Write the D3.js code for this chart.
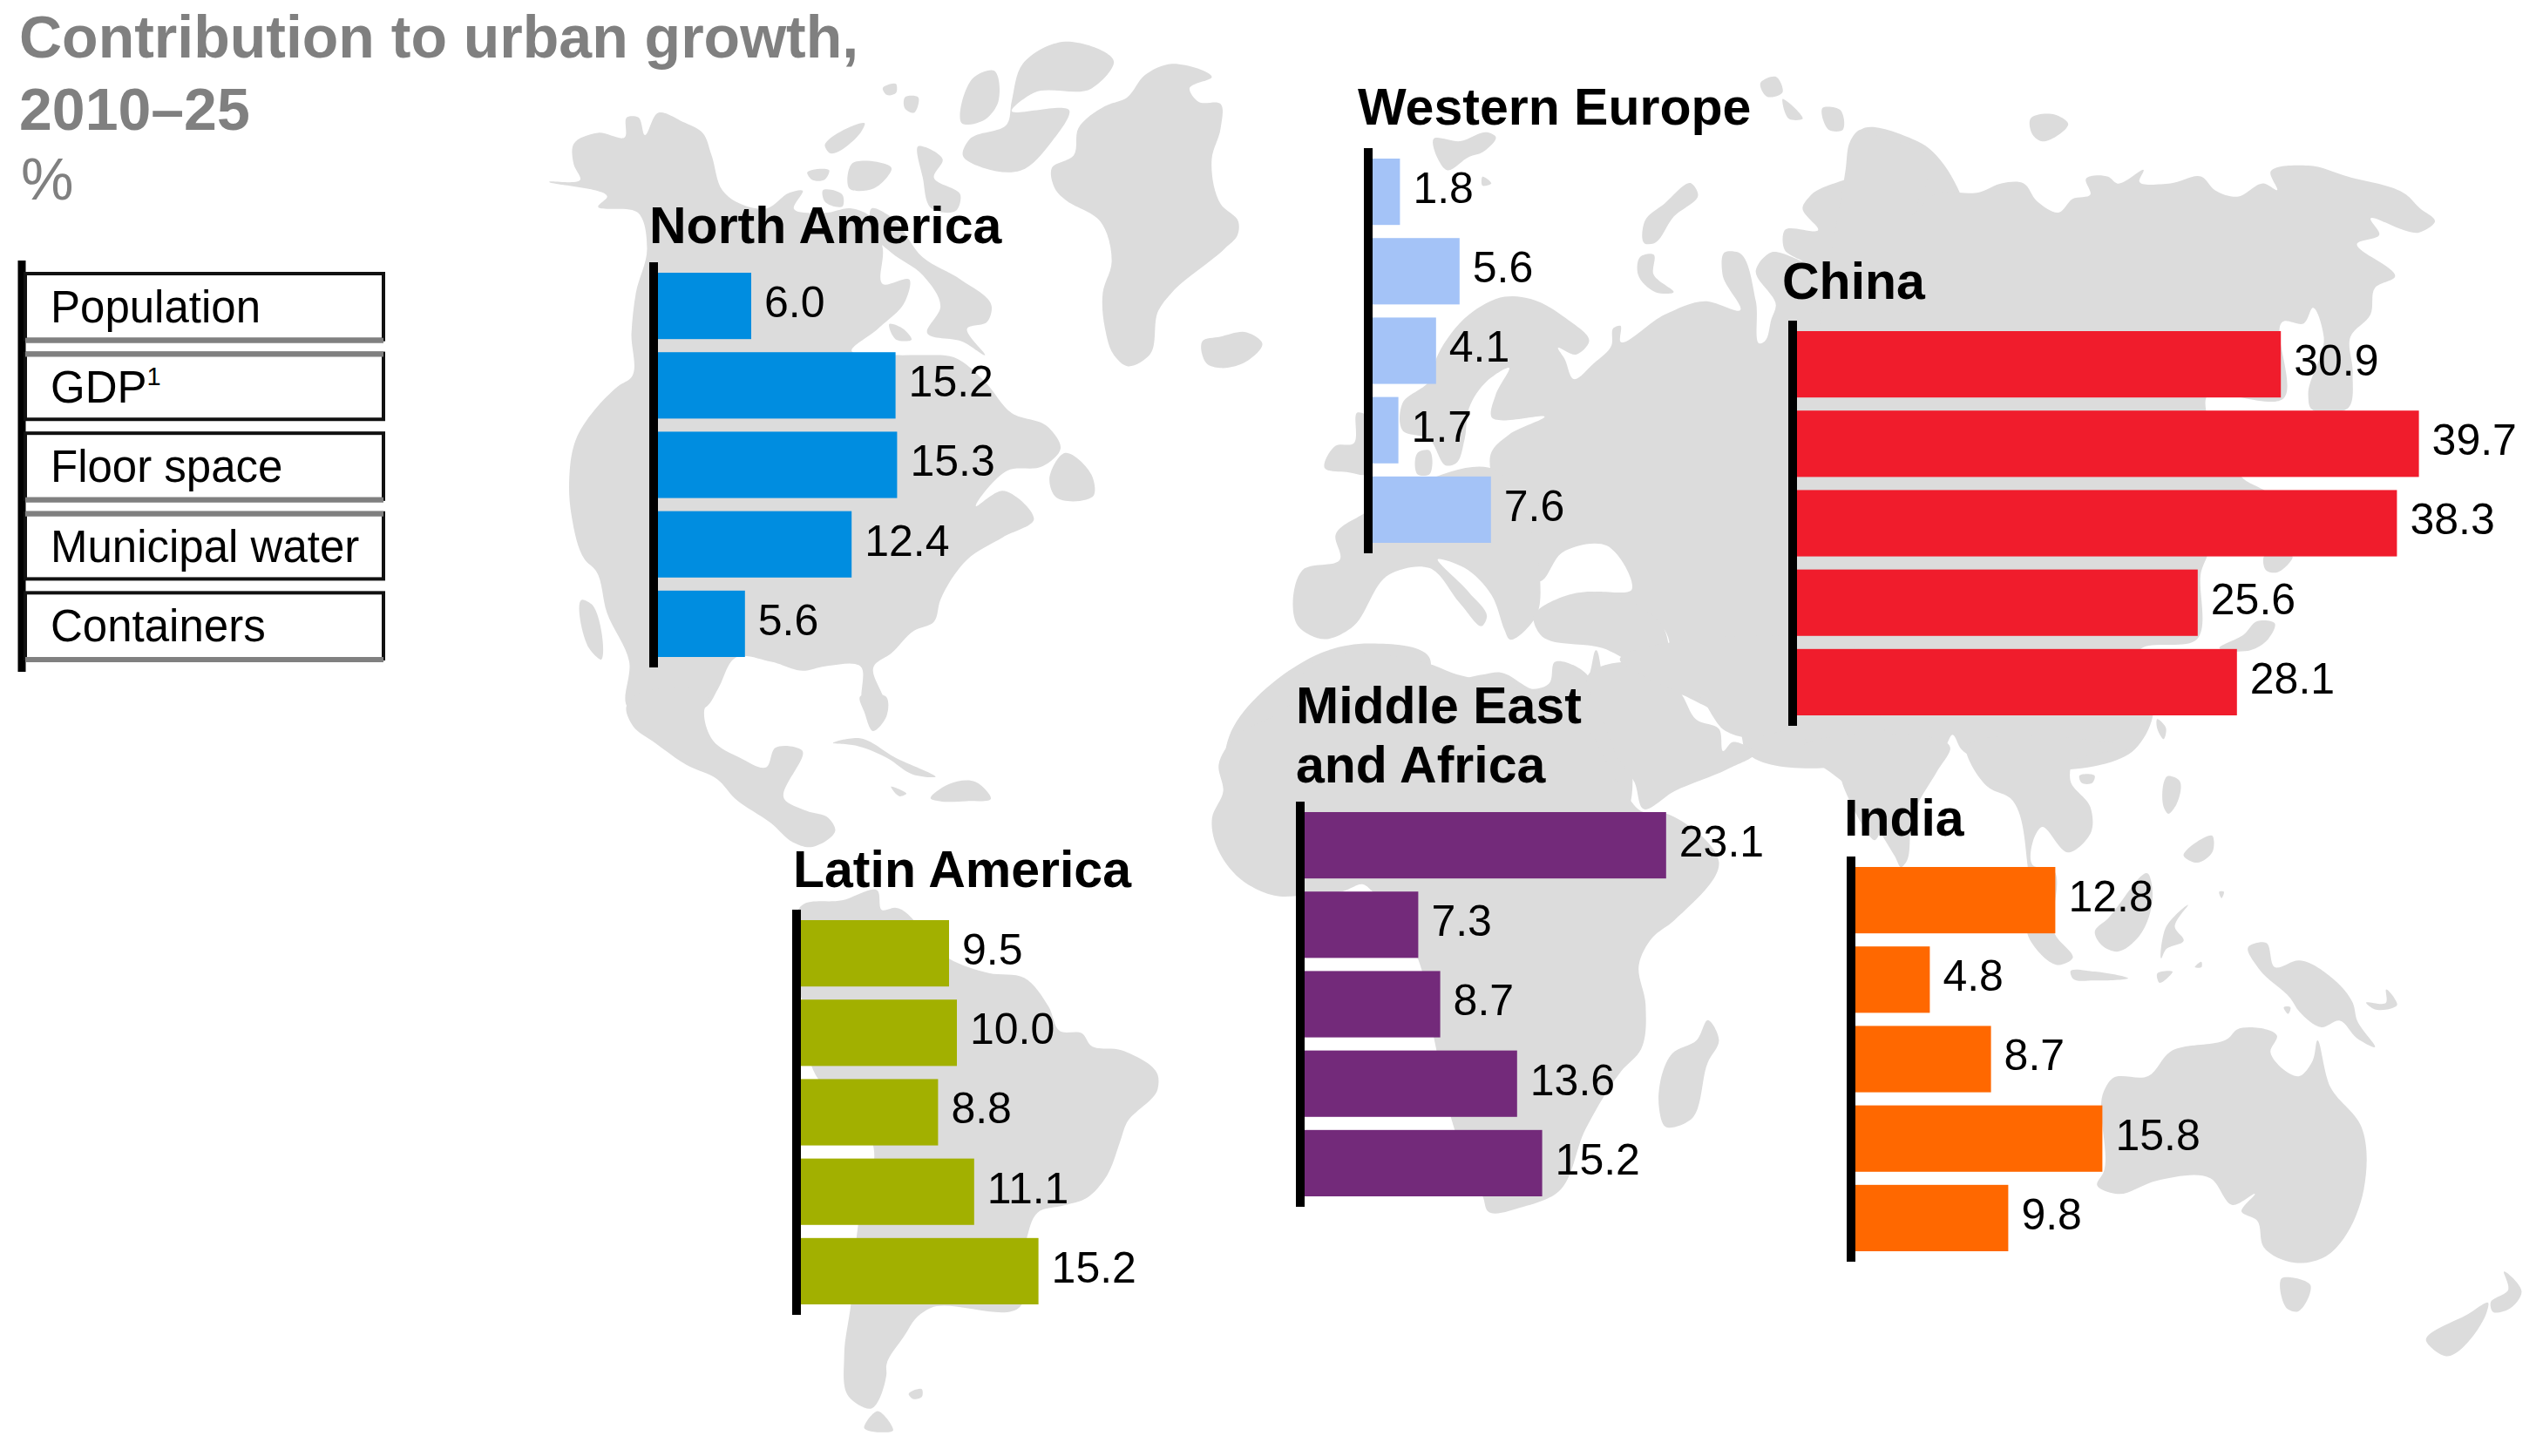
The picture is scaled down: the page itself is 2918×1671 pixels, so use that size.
<!DOCTYPE html>
<html>
<head>
<meta charset="utf-8">
<title>Contribution to urban growth</title>
<script src="https://cdnjs.cloudflare.com/ajax/libs/d3/7.8.5/d3.min.js"></script>
<style>
  html, body { margin: 0; padding: 0; background: #fff; }
  svg { display: block; }
  text { font-family: "Liberation Sans", Arial, sans-serif; }
</style>
</head>
<body>
<svg id="chart"></svg>
<script>
// chart values
var measures = ['Population', 'GDP', 'Floor space', 'Municipal water', 'Containers'];
var northAmerica = [6.0, 15.2, 15.3, 12.4, 5.6];
var westernEurope = [1.8, 5.6, 4.1, 1.7, 7.6];
var china = [30.9, 39.7, 38.3, 25.6, 28.1];
var latinAmerica = [9.5, 10.0, 8.8, 11.1, 15.2];
var middleEastAfrica = [23.1, 7.3, 8.7, 13.6, 15.2];
var india = [12.8, 4.8, 8.7, 15.8, 9.8];

var titleLines = ['Contribution to urban growth,', '2010\u201325'];

// panel placement
var panels = [
    { name: ['North America'], values: northAmerica, color: '#008de0', axisX: 750, top: 313, titleX: 745, titleY: [279] },
    { name: ['Western Europe'], values: westernEurope, color: '#a4c3f7', axisX: 1570, top: 182, titleX: 1558, titleY: [143] },
    { name: ['China'], values: china, color: '#f01c2c', axisX: 2057, top: 380, titleX: 2045, titleY: [343] },
    { name: ['Latin America'], values: latinAmerica, color: '#a2b000', axisX: 914, top: 1056, titleX: 910, titleY: [1018] },
    { name: ['Middle East', 'and Africa'], values: middleEastAfrica, color: '#732a7a', axisX: 1492, top: 932, titleX: 1487, titleY: [830, 898] },
    { name: ['India'], values: india, color: '#ff6800', axisX: 2124, top: 995, titleX: 2116, titleY: [959] }
];

// background map. each crop has its own offset and zoom
var crops = {
    a: [620, 30, 1.96, 1.96],
    b: [1400, 60, 1.96, 1.96],
    c: [2118, 60, 1.96, 1.96],
    d: [1350, 760, 1.96, 1.96],
    e: [2118, 860, 1.96, 1.96],
    f: [660, 800, 1.96, 1.8]
};
var land = [
    // north america
    ['a', '20,350 90,345 75,310 75,265 130,240 190,250 195,205 220,205 235,245 265,195 320,215 365,240 385,290 410,370 440,395 510,410 560,375 590,370 570,410 640,420 700,410 745,430 770,500 770,580 830,570 820,620 760,680 700,730 800,740 860,740 930,745 1000,800 1060,870 1140,900 1170,950 1130,990 1050,1000 980,1080 1040,1045 1110,1110 1040,1150 960,1200 900,1290 885,1340 840,1360 790,1410 750,1440 775,1530 760,1570 725,1530 720,1440 640,1440 590,1450 520,1430 440,1420 400,1490 375,1530 195,1530 200,1430 150,1320 125,1225 100,1200 70,1100 65,1020 80,930 175,810 205,790 205,690 215,600 240,500 220,420 130,405 150,385'],
    ['a', '745,410 790,430 860,520 945,570 1015,630 1005,665 960,680 1000,740 950,710 870,690 900,630 860,560 790,510 750,470'],
    ['a', '850,270 905,300 885,340 945,380 935,415 880,410 860,340'],
    ['a', '700,310 790,320 750,365 695,365'],
    ['a', '640,270 730,220 720,240 650,285'],
    ['a', '600,330 650,325 640,345 610,345'],
    ['a', '635,370 680,380 680,405 640,395'],
    ['a', '785,670 815,680 835,705 800,705'],
    ['a', '1085,85 1180,35 1290,80 1240,140 1110,150 1060,190 1190,190 1150,260 1080,325 1000,320 950,290 965,255 1050,220 1060,170'],
    ['a', '950,220 975,115 1020,100 1030,170 1000,210'],
    ['a', '770,140 800,130 800,150 780,155'],
    ['a', '820,160 850,160 840,195 820,185'],
    ['a', '1150,320 1200,290 1210,230 1270,180 1320,160 1360,110 1420,85 1510,115 1460,140 1480,170 1530,175 1530,230 1510,300 1530,400 1570,440 1568,470 1540,500 1420,600 1390,640 1370,740 1320,765 1290,740 1270,680 1265,600 1285,530 1260,440 1180,390 1160,370'],
    ['a', '1180,960 1240,1010 1245,1055 1160,1060 1145,1020'],
    ['a', '95,1290 115,1300 135,1425 110,1400'],
    // central and south america
    ['f', '115,20 130,0 300,0 290,30 310,90 370,125 430,145 450,105 510,110 470,210 520,235 570,250 585,275 530,310 490,300 440,260 360,210 320,170 250,140 180,95 130,60'],
    ['f', '500,600 510,430 600,420 680,400 690,440 720,435 840,540 930,570 1010,580 1065,640 1090,690 1140,695 1160,720 1230,730 1310,780 1310,810 1240,880 1225,920 1195,990 1150,1035 1100,1050 1040,1065 1015,1120 1000,1260 800,1262 770,1280 740,1320 700,1380 700,1400 665,1470 615,1445 605,1360 620,1255 635,1100 670,925 535,770 510,625'],
    ['f', '650,1510 680,1475 715,1515'],
    ['f', '750,1440 780,1430 780,1445 760,1450'],
    ['f', '580,95 640,85 720,125 810,165 760,160 700,125 630,100'],
    ['f', '800,210 840,180 900,175 935,210 880,215 820,215'],
    ['f', '710,185 745,200 730,205'],
    ['f', '640,0 700,0 700,40 670,70 650,30'],
    // europe and russia
    ['b', '-40,650 0,640 60,630 95,655 60,695 0,710 -30,700'],
    ['b', '1440,175 1420,225 1440,260 1330,320 1310,350 1345,400 1270,400 1270,445 1310,470 1240,450 1205,490 1250,570 1240,600 1225,650 1215,655 1205,560 1165,450 1135,450 1130,500 1170,580 1090,560 1000,590 900,650 900,615 885,620 880,660 840,700 795,735 775,690 760,665 800,680 830,650 780,600 700,555 640,550 560,590 490,680 470,740 410,790 410,850 470,870 510,930 530,925 550,870 560,800 600,740 650,710 620,770 610,820 730,820 650,860 610,900 610,960 640,1100 720,1190 770,1125 870,1110 925,1210 840,1215 1000,1300 1030,1440 1050,1450 1170,1530 1180,1568 1568,1568 1568,200'],
    ['b', '320,1040 620,940 720,1190 710,1270 650,1320 640,1300 610,1220 550,1160 490,1140 560,1215 600,1270 590,1290 540,1240 470,1160 380,1175 295,1295 235,1320 175,1290 185,1165 270,1140 260,1085'],
    ['b', '705,1270 770,1225 860,1215 1000,1300 1000,1400 860,1340 720,1310'],
    ['b', '445,900 470,895 470,950 445,950'],
    ['b', '235,935 260,885 300,880 310,810 328,815 328,950 290,945'],
    ['b', '480,195 540,200 600,180 620,190 590,225 560,235 510,265 490,240'],
    ['b', '590,280 610,295 590,300'],
    ['b', '1215,70 1250,55 1265,90 1230,100'],
    ['b', '1265,105 1310,150 1280,150'],
    ['b', '1355,125 1395,130 1400,175 1370,175'],
    ['b', '955,380 1000,340 1060,295 1075,320 1020,370 975,430 955,430'],
    ['b', '945,460 975,455 975,500 1020,540 980,540 940,500'],
    ['c', '415,150 470,140 500,160 440,200 420,185'],
    // east asia
    ['c', '0,260 10,200 30,175 100,200 170,215 185,280 150,365 200,320 300,315 350,295 400,295 430,335 480,360 510,330 550,320 540,285 590,280 610,295 670,265 660,290 730,295 800,280 830,310 880,325 940,295 970,310 955,270 1040,255 1130,280 1260,320 1290,350 1325,380 1290,405 1180,375 1200,410 1150,430 1235,505 1190,530 1180,590 1135,640 1140,720 1130,800 1045,800 1040,770 1075,640 1050,575 1030,610 985,605 985,778 810,778 810,806 895,960 945,990 900,995 810,1140 800,1165 790,1320 660,1345 690,1495 650,1568 260,1568 240,1535 220,1568 0,1568'],
    ['c', '940,1135 1005,1135 970,1170 945,1165'],
    ['c', '965,1285 950,1320 910,1345 840,1340 895,1310 925,1280'],
    ['c', '700,1500 720,1520 715,1545 700,1520'],
    // africa and the middle east
    ['b', '20,1540 230,1350 340,1330 470,1360 480,1410 590,1400 630,1395 710,1435 820,1420 845,1345 870,1460 920,1568 920,1700 20,1700'],
    ['d', '95,230 130,170 250,100 305,0 555,0 640,30 840,45 850,0 925,30 920,130 950,190 985,260 1020,310 1045,335 1100,340 1220,450 1120,580 1070,620 1040,680 1055,770 1045,870 1000,920 920,1050 860,1190 780,1225 700,1235 690,1205 625,1050 580,850 540,660 440,515 420,500 375,515 285,525 220,525 135,480 85,400 80,350 105,290'],
    ['d', '1195,805 1220,850 1195,900 1155,1030 1100,1045 1085,1000 1115,880 1170,850'],
    ['d', '960,130 925,30 1000,0 1130,65 1170,130 1220,150 1230,200 1250,180 1300,205 1240,240 1120,290 1050,330 1030,270 990,210'],
    ['d', '1000,0 1568,0 1568,100 1390,145 1285,170 1235,155 1165,70 1130,65'],
    ['d', '1390,100 1420,180 1480,210 1500,280 1568,400 1568,100'],
    // south east asia and oceania
    ['e', '0,80 110,240 125,265 135,255 150,150 205,50 235,0 -100,0'],
    ['e', '270,0 640,0 510,30 505,70 550,130 552,185 500,232 440,175 420,210 420,260 465,270 470,415 510,470 480,485 415,430 410,270 370,110 320,85'],
    ['e', '525,60 560,60 555,75 530,75'],
    ['e', '560,410 590,380 680,280 690,330 660,420 610,455 575,440'],
    ['e', '505,500 560,500 635,515 560,520 510,515'],
    ['e', '710,470 720,400 770,350 740,400 760,430 720,450'],
    ['e', '715,130 725,60 750,70 740,130 725,145'],
    ['e', '760,240 825,195 825,230 790,255'],
    ['e', '700,505 735,500 705,525'],
    ['e', '785,490 800,478 800,490'],
    ['e', '840,320 850,320 845,335'],
    ['e', '905,445 945,435 965,490 1020,475 1100,520 1140,570 1150,610 1190,670 1150,650 1110,610 1070,625 1020,590 1000,560 930,495'],
    ['e', '985,580 1000,580 995,595'],
    ['e', '1170,570 1215,570 1215,540 1240,575 1190,585'],
    ['e', '580,770 600,740 680,735 730,680 860,650 880,630 970,645 955,680 1020,735 1050,700 1060,655 1090,760 1160,850 1165,990 1120,1100 1080,1140 1010,1155 940,1120 925,1060 890,1040 920,1000 870,1025 820,965 700,970 610,1000 565,980 580,950'],
    ['e', '980,1190 1045,1205 1015,1265 995,1260'],
    ['e', '1480,1175 1520,1220 1490,1260 1455,1265 1450,1245 1490,1215'],
    ['e', '1305,1330 1400,1270 1445,1245 1440,1270 1350,1365']
];

var width = 2918, height = 1671;
var svg = d3.select('#chart').attr('width', width).attr('height', height);

// map first so everything else sits on top
var outline = d3.line().curve(d3.curveCatmullRomClosed.alpha(0.8));
svg.append('g')
    .selectAll('path')
    .data(land)
    .join('path')
    .attr('fill', '#dcdcdc')
    .attr('d', function (d) {
        var c = crops[d[0]];
        var pts = d[1].split(' ').map(function (p) {
            var xy = p.split(',');
            return [c[0] + xy[0] / c[2], c[1] + xy[1] / c[3]];
        });
        return outline(pts);
    });

// title
var title = svg.append('g').attr('fill', '#808080').attr('font-size', 68);
title.selectAll('text')
    .data(titleLines)
    .join('text')
    .attr('x', 22)
    .attr('y', function (d, i) { return 66 + i * 83; })
    .attr('font-weight', 'bold')
    .text(function (d) { return d; });
title.append('text').attr('x', 24).attr('y', 229).text('%');

// legend
var legendY = d3.scaleBand().domain(measures).range([314, 756]).paddingInner(16 / 92);
var legend = svg.append('g');
legend.append('line')
    .attr('x1', 25).attr('x2', 25)
    .attr('y1', 299).attr('y2', 771)
    .attr('stroke', '#000').attr('stroke-width', 9);
var rows = legend.selectAll('g').data(measures).join('g');
rows.append('rect')
    .attr('x', 29).attr('width', 411)
    .attr('y', function (d) { return legendY(d); })
    .attr('height', legendY.bandwidth())
    .attr('fill', '#fff')
    .attr('stroke', '#111')
    .attr('stroke-width', 4);
// the rows have one soft grey edge each, bottom and top in turn
rows.append('line')
    .attr('x1', 29).attr('x2', 440)
    .attr('y1', function (d, i) { return legendY(d) + (i % 2 ? 0 : legendY.bandwidth()) + 1; })
    .attr('y2', function (d, i) { return legendY(d) + (i % 2 ? 0 : legendY.bandwidth()) + 1; })
    .attr('stroke', '#808080')
    .attr('stroke-width', 6);
var rowText = rows.append('text')
    .attr('x', 58)
    .attr('y', function (d) { return legendY(d) + 56; })
    .attr('font-size', 51)
    .attr('fill', '#000')
    .text(function (d) { return d; });
rowText.filter(function (d) { return d === 'GDP'; })
    .append('tspan')
    .attr('dy', -20)
    .attr('font-size', 29)
    .text('1');

// bars, 18px per percentage point
var x = d3.scaleLinear().domain([0, 40]).range([0, 720]);
var fmt = d3.format('.1f');

panels.forEach(function (p) {
    var y = d3.scaleBand()
        .domain(measures)
        .range([p.top, p.top + 441])
        .paddingInner(15 / 91);
    var g = svg.append('g').attr('transform', 'translate(' + (p.axisX + 4) + ',0)');

    g.selectAll('rect')
        .data(p.values)
        .join('rect')
        .attr('x', 0)
        .attr('y', function (d, i) { return y(measures[i]); })
        .attr('width', function (d) { return x(d); })
        .attr('height', y.bandwidth())
        .attr('fill', p.color);

    g.selectAll('text')
        .data(p.values)
        .join('text')
        .attr('x', function (d) { return x(d) + 15; })
        .attr('y', function (d, i) { return y(measures[i]) + 51; })
        .attr('font-size', 50)
        .attr('fill', '#000')
        .text(function (d) { return fmt(d); });

    svg.append('line')
        .attr('x1', p.axisX).attr('x2', p.axisX)
        .attr('y1', p.top - 12).attr('y2', p.top + 453)
        .attr('stroke', '#000')
        .attr('stroke-width', 10);

    svg.append('g').selectAll('text')
        .data(p.name)
        .join('text')
        .attr('x', p.titleX)
        .attr('y', function (d, i) { return p.titleY[i]; })
        .attr('font-size', 59)
        .attr('font-weight', 'bold')
        .attr('fill', '#000')
        .text(function (d) { return d; });
});
</script>
</body>
</html>
